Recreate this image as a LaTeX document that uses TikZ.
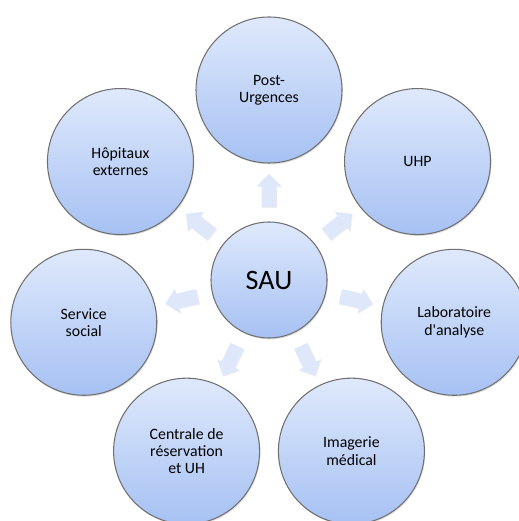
\documentclass[tikz,border=0pt]{standalone}
\usepackage{fontspec}
\setmainfont{Carlito}
\usetikzlibrary{shapes.arrows,shadows,calc}
\definecolor{ringtop}{HTML}{DFE9FC}
\definecolor{ringbot}{HTML}{A6C1F3}
\definecolor{ringline}{HTML}{707070}
\definecolor{flowfill}{HTML}{DFE8FB}
\tikzset{
  unit/.style={circle, draw=ringline, line width=0.6pt, top color=ringtop,
    bottom color=ringbot, minimum size=2.92cm, inner sep=0pt, align=center,
    font=\fontsize{9}{9.8}\selectfont,
    drop shadow={opacity=0.25, shadow xshift=0.5pt, shadow yshift=-0.8pt}},
  hub/.style={unit, minimum size=2.32cm, font=\fontsize{16}{18}\selectfont},
  flow/.style={single arrow, draw=none, fill=flowfill, minimum height=0.66cm,
    inner sep=0.14cm, single arrow head extend=0.1cm,
    single arrow head indent=0pt,
    drop shadow={opacity=0.15, shadow xshift=0.4pt, shadow yshift=-0.6pt}}
}
\begin{document}
\begin{tikzpicture}
\useasboundingbox (0,0) rectangle (10.36,10.42);

\node[hub] (sau) at (5.38,4.82) {SAU};

% services around the SAU
\foreach \ang/\nm/\txt in {90/post/{Post-\\Urgences},
    38.57/uhp/{UHP},
    -12.86/labo/{Laboratoire\\d\textquotesingle analyse},
    -64.29/imag/{Imagerie\\médical},
    -115.71/resa/{Centrale de\\réservation\\et UH},
    -167.14/social/{Service\\social},
    141.43/hopit/{Hôpitaux\\externes}}{
  \node[unit] (\nm) at ($(sau)+(\ang:3.8)$) {\txt};
  \node[flow, rotate=\ang] at ($(sau)!1.72cm!(\nm)$) {};
}
\end{tikzpicture}
\end{document}
